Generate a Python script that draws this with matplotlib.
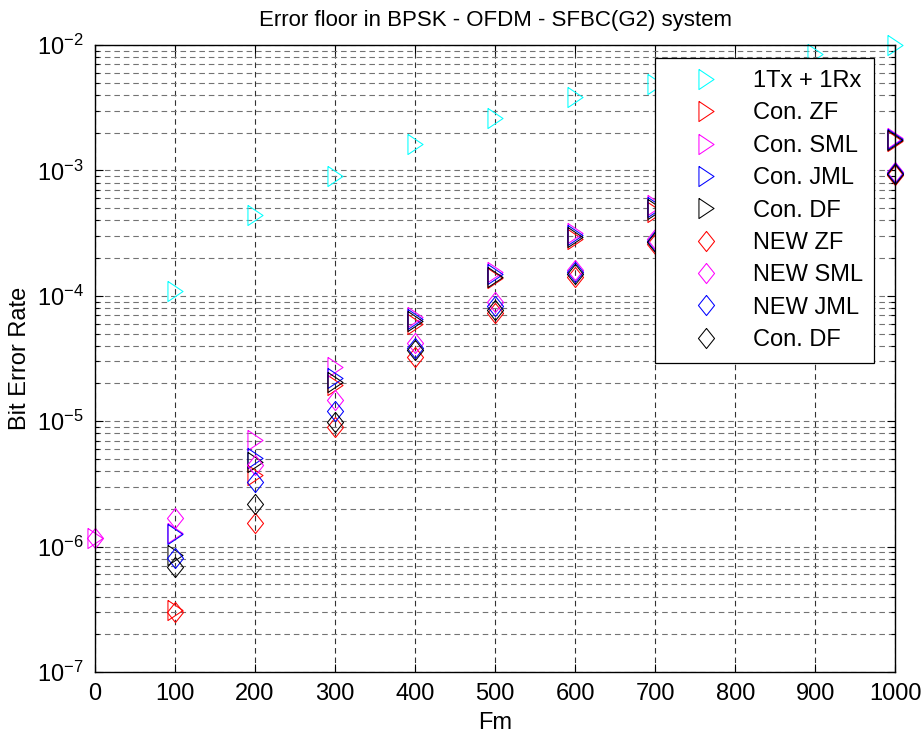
#!/usr/bin/env python3
# -*- coding: utf-8 -*-
"""Error floor of BPSK-OFDM-SFBC(G2): BER versus Doppler Fm."""

import numpy as np
import matplotlib

matplotlib.use("Agg")
import matplotlib.pyplot as plt
from matplotlib.ticker import LogLocator, NullFormatter

nan = np.nan

FM = [0, 100, 200, 300, 400, 500, 600, 700, 800, 900, 1000]

BER_SISO = [nan, 1.09e-4, 4.4e-4, 9.0e-4, 1.62e-3, 2.6e-3, 3.85e-3, 4.9e-3, 6.6e-3, 8.5e-3, 1.0e-2]
CON_ZF = [nan, 3.1e-7, 3.7e-6, 1.95e-5, 5.95e-5, 1.38e-4, 2.83e-4, 4.7e-4, 7.4e-4, 1.15e-3, 1.72e-3]
CON_SML = [1.17e-6, 1.29e-6, 7.1e-6, 2.7e-5, 6.8e-5, 1.56e-4, 3.15e-4, 5.3e-4, 8.0e-4, 1.22e-3, 1.82e-3]
CON_JML = [nan, 1.27e-6, 5.05e-6, 2.2e-5, 6.5e-5, 1.49e-4, 3.05e-4, 5.1e-4, 7.7e-4, 1.18e-3, 1.78e-3]
CON_DF = [nan, 8.6e-7, 4.75e-6, 2.05e-5, 6.3e-5, 1.42e-4, 2.93e-4, 4.95e-4, 7.6e-4, 1.17e-3, 1.76e-3]
NEW_ZF = [nan, 3.0e-7, 1.55e-6, 9.0e-6, 3.27e-5, 7.25e-5, 1.42e-4, 2.6e-4, 4.1e-4, 6.2e-4, 9.2e-4]
NEW_SML = [1.17e-6, 1.68e-6, 4.48e-6, 1.48e-5, 4.18e-5, 8.97e-5, 1.62e-4, 2.85e-4, 4.4e-4, 6.6e-4, 9.8e-4]
NEW_JML = [nan, 8.1e-7, 3.3e-6, 1.21e-5, 3.81e-5, 8.3e-5, 1.55e-4, 2.75e-4, 4.3e-4, 6.4e-4, 9.5e-4]
NEW_DF = [nan, 6.9e-7, 2.17e-6, 9.9e-6, 3.7e-5, 7.7e-5, 1.5e-4, 2.7e-4, 4.2e-4, 6.3e-4, 9.3e-4]

LABELS = ["1Tx + 1Rx", "Con. ZF", "Con. SML", "Con. JML", "Con. DF",
          "NEW ZF", "NEW SML", "NEW JML", "Con. DF"]
COLORS = ["#00ffff", "#ff0000", "#ff00ff", "#0000ff", "#000000",
          "#ff0000", "#ff00ff", "#0000ff", "#000000"]

# MATLAB-like narrow triangle and diamond
TRI = [(-0.75, 1.0), (0.75, 0.0), (-0.75, -1.0), (-0.75, 1.0)]
DIA = [(0.0, 1.0), (0.8, 0.0), (0.0, -1.0), (-0.8, 0.0), (0.0, 1.0)]

plt.rcParams["font.family"] = ["Liberation Sans", "DejaVu Sans"]
plt.rcParams["mathtext.fontset"] = "custom"
plt.rcParams["mathtext.rm"] = "Liberation Sans"
plt.rcParams["mathtext.it"] = "Liberation Sans:italic"


def main() -> int:
    series = [BER_SISO, CON_ZF, CON_SML, CON_JML, CON_DF,
              NEW_ZF, NEW_SML, NEW_JML, NEW_DF]
    markers = [TRI] * 5 + [DIA] * 4

    fig = plt.figure(figsize=(9.22, 7.38), dpi=100)
    ax = fig.add_axes([0.103, 0.0894, 0.868, 0.8496])

    for ys, lab, col, mk in zip(series, LABELS, COLORS, markers):
        ax.semilogy(FM, ys, linestyle="none", marker=mk, markersize=14.5,
                    markerfacecolor="none", markeredgecolor=col,
                    markeredgewidth=0.75, label=lab, clip_on=False)

    ax.set_xlim(0, 1000)
    ax.set_ylim(1e-7, 1e-2)
    ax.set_xticks(range(0, 1001, 100))
    ax.yaxis.set_major_locator(LogLocator(base=10, numticks=10))
    ax.yaxis.set_minor_locator(LogLocator(base=10, subs=np.arange(2, 10), numticks=20))
    ax.yaxis.set_minor_formatter(NullFormatter())

    dash = (0, (5, 3.5))
    ax.grid(True, axis="x", which="major", color="0.2", linestyle=dash, linewidth=0.8)
    ax.grid(True, axis="y", which="both", color="0.45", linestyle=dash, linewidth=0.8)

    ax.tick_params(which="both", direction="in", top=True, right=True,
                   labelsize=17, width=0.8)
    ax.tick_params(which="major", length=6, pad=8)
    ax.tick_params(which="minor", length=3)
    for sp in ax.spines.values():
        sp.set_linewidth(1.0)

    ax.set_title("Error floor in BPSK - OFDM - SFBC(G2) system", fontsize=16, pad=14)
    ax.set_xlabel("Fm", fontsize=17, labelpad=5)
    ax.set_ylabel("Bit Error Rate", fontsize=17, labelpad=4)

    leg = ax.legend(loc="upper right", bbox_to_anchor=(0.974, 0.979),
                    borderaxespad=0, fontsize=17, labelspacing=0.44,
                    handlelength=3.4, handletextpad=0.25, borderpad=0.5,
                    fancybox=False, framealpha=1, edgecolor="black",
                    numpoints=1)
    leg.get_frame().set_linewidth(0.9)

    fig.savefig("out.png", dpi=100)
    plt.close(fig)
    return 0


if __name__ == "__main__":
    raise SystemExit(main())
